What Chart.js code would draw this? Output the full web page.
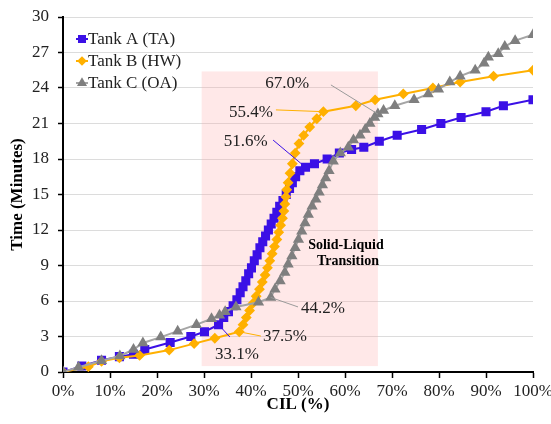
<!DOCTYPE html>
<html>
<head>
<meta charset="utf-8">
<script src="https://cdn.jsdelivr.net/npm/chart.js@4"></script>
<style>
  html, body { margin: 0; padding: 0; background: #fff; }
  #wrap { width: 551px; height: 424px; }
</style>
</head>
<body>
<div id="wrap"><canvas id="c" width="551" height="424"></canvas></div>
<script>
// CIL (%) vs. time (minutes) for the three tanks
const tankA_cil = [0, 4, 8.2, 12, 15, 17.4, 22.8, 27.2, 30.1, 33.1, 34.2, 35.2, 36.2, 37, 37.7, 38.3, 38.9, 39.5, 40.1, 40.7, 41.3, 41.9, 42.5, 43.1, 43.7, 44.3, 44.9, 45.5, 46.1, 46.8, 47.5, 48.2, 48.8, 49.5, 50.4, 51.6, 53.5, 56.2, 58.8, 61.4, 64, 67.3, 71.1, 76.3, 80.4, 84.7, 90, 93.7, 100];
const tankA_time = [0, 0.5, 1.0, 1.3, 1.5, 1.9, 2.5, 3.0, 3.4, 4.0, 4.6, 5.1, 5.6, 6.1, 6.7, 7.2, 7.7, 8.3, 8.8, 9.4, 9.9, 10.5, 11.0, 11.5, 12.0, 12.5, 13.0, 13.5, 14.0, 14.5, 15.0, 15.5, 16.0, 16.5, 17.0, 17.3, 17.6, 18.0, 18.5, 18.8, 19.0, 19.5, 20.0, 20.5, 21.0, 21.5, 22.0, 22.5, 23.0];

const tankB_cil = [0, 5.4, 8.2, 12, 16.3, 22.6, 27.9, 32.3, 37.5, 38.3, 39.0, 39.7, 40.4, 41.1, 41.8, 42.4, 43.0, 43.5, 44.0, 44.5, 45.0, 45.5, 45.9, 46.3, 46.7, 47.0, 47.2, 47.4, 47.6, 47.9, 48.3, 48.8, 49.4, 50.2, 51.2, 52.5, 54.0, 55.4, 62.3, 66.4, 72.4, 78.7, 84.5, 91.6, 100];
const tankB_time = [0, 0.45, 0.9, 1.2, 1.4, 1.85, 2.4, 2.85, 3.4, 4.0, 4.6, 5.2, 5.8, 6.4, 7.0, 7.6, 8.2, 8.8, 9.4, 10.0, 10.6, 11.2, 11.8, 12.4, 13.0, 13.6, 14.2, 14.8, 15.4, 16.0, 16.8, 17.6, 18.5, 19.3, 20.0, 20.7, 21.4, 22.0, 22.5, 23.0, 23.5, 24.0, 24.5, 25.0, 25.5];

const tankC_cil = [0, 3.3, 8.2, 12.1, 15, 17, 20.8, 24.4, 28.4, 31.6, 33.3, 34.5, 36.8, 41.6, 44.2, 45.1, 46.2, 47.2, 47.9, 48.7, 49.4, 50.1, 50.8, 51.5, 52.2, 53.0, 53.8, 54.5, 55.2, 55.9, 56.6, 57.5, 59.0, 60.7, 61.8, 63.2, 64.3, 65.3, 66.3, 67.0, 68.2, 70.6, 74.7, 77.7, 79.9, 82.3, 84.5, 87.7, 89.6, 90.5, 92.6, 94, 96.2, 100];
const tankC_time = [0, 0.4, 0.95, 1.35, 1.9, 2.45, 2.95, 3.45, 4.0, 4.5, 4.8, 5.1, 5.5, 5.9, 6.3, 7.0, 7.7, 8.4, 9.1, 9.8, 10.5, 11.2, 11.9, 12.6, 13.3, 14.0, 14.6, 15.2, 15.8, 16.4, 17.0, 17.8, 18.5, 19.0, 19.6, 20.0, 20.5, 21.0, 21.5, 21.8, 22.1, 22.5, 23.0, 23.5, 23.9, 24.5, 25.0, 25.5, 26.1, 26.6, 26.9, 27.5, 28.0, 28.5];

const seriesNames = ['Tank A (TA)', 'Tank B (HW)', 'Tank C (OA)'];

// Axis ticks
const xTicks = [0, 10, 20, 30, 40, 50, 60, 70, 80, 90, 100];
const yTicks = [0, 3, 6, 9, 12, 15, 18, 21, 24, 27, 30];

// Shaded solid-liquid transition band (CIL % range, time range)
const bandCil = [29.5, 67.0];
const bandTime = [0.5, 25.4];

// Labelled CIL values: which series carries each one
const calloutValues = [33.1, 37.5, 44.2, 51.6, 55.4, 67.0];
const calloutSeries = [0, 1, 2, 0, 1, 2];

const SERIF = '"Liberation Serif", "Times New Roman", serif';
const COLORS = {
  a: '#3B10E6',
  b: '#FFB000',
  cLine: '#A5A5A5',
  cMark: '#7F7F7F'
};

const toPoints = (xs, ys) => xs.map((x, i) => ({ x: x, y: ys[i] }));

// Callout placement (label centre and leader end, in axis units)
const calloutLayout = [
  { label: [37.0, 1.44], leader: [35.5, 2.96], color: COLORS.a },
  { label: [47.2, 2.96], leader: [42.1, 3.04], color: COLORS.b },
  { label: [55.3, 5.40], leader: [50.0, 5.50], color: '#9A9A9A' },
  { label: [38.9, 19.45], leader: [44.7, 19.6], color: COLORS.a },
  { label: [40.0, 21.9], leader: [45.3, 22.15], color: COLORS.b },
  { label: [47.7, 24.35], leader: [57.0, 24.26], color: '#9A9A9A' }
];

const bandPlugin = {
  id: 'band',
  beforeDatasetsDraw(chart) {
    const { ctx, scales: { x, y } } = chart;
    const x0 = x.getPixelForValue(bandCil[0]);
    const x1 = x.getPixelForValue(bandCil[1]);
    const y0 = y.getPixelForValue(bandTime[1]);
    const y1 = y.getPixelForValue(bandTime[0]);
    ctx.save();
    ctx.fillStyle = 'rgba(255, 170, 170, 0.27)';
    ctx.fillRect(x0, y0, x1 - x0, y1 - y0);
    ctx.restore();
  }
};

const calloutPlugin = {
  id: 'callouts',
  afterDatasetsDraw(chart) {
    const { ctx, scales: { x, y } } = chart;
    ctx.save();
    calloutValues.forEach((v, i) => {
      const ds = chart.data.datasets[calloutSeries[i]];
      const pt = ds.data.find(p => p.x === v);
      const lay = calloutLayout[i];
      const px = x.getPixelForValue(pt.x);
      const py = y.getPixelForValue(pt.y);
      ctx.strokeStyle = lay.color;
      ctx.lineWidth = 1;
      ctx.beginPath();
      ctx.moveTo(px, py);
      ctx.lineTo(x.getPixelForValue(lay.leader[0]), y.getPixelForValue(lay.leader[1]));
      ctx.stroke();
      ctx.fillStyle = '#222';
      ctx.font = '17px ' + SERIF;
      ctx.textAlign = 'center';
      ctx.textBaseline = 'middle';
      ctx.fillText(v.toFixed(1) + '%', x.getPixelForValue(lay.label[0]), y.getPixelForValue(lay.label[1]));
    });
    // Band caption
    ctx.fillStyle = '#000';
    ctx.font = 'bold 14px ' + SERIF;
    ctx.textAlign = 'center';
    ctx.textBaseline = 'middle';
    const cx = x.getPixelForValue(60.2);
    const cy = y.getPixelForValue(10.0);
    ctx.fillText('Solid-Liquid', cx, cy - 8);
    ctx.fillText('Transition', cx + 2, cy + 8);
    ctx.restore();
  }
};

const legendPlugin = {
  id: 'sideLegend',
  afterDraw(chart) {
    const { ctx } = chart;
    ctx.save();
    const rowY = [39, 61, 83];
    chart.data.datasets.forEach((ds, i) => {
      const yy = rowY[i];
      ctx.strokeStyle = ds.borderColor;
      ctx.lineWidth = 2;
      ctx.beginPath();
      ctx.moveTo(76, yy);
      ctx.lineTo(88, yy);
      ctx.stroke();
      ctx.fillStyle = ds.pointBackgroundColor;
      ctx.strokeStyle = ds.pointBorderColor;
      Chart.helpers.drawPoint(ctx, {
        pointStyle: ds.pointStyle,
        radius: ds.pointRadius * 0.85,
        rotation: 0,
        borderWidth: 1
      }, 82, yy);
      ctx.fillStyle = '#222';
      ctx.font = '17px ' + SERIF;
      ctx.textAlign = 'left';
      ctx.textBaseline = 'middle';
      ctx.fillText(seriesNames[i], 88, yy + 1);
    });
    ctx.restore();
  }
};

new Chart(document.getElementById('c'), {
  type: 'line',
  data: {
    datasets: [
      {
        label: seriesNames[0],
        data: toPoints(tankA_cil, tankA_time),
        borderColor: COLORS.a,
        backgroundColor: COLORS.a,
        pointBackgroundColor: COLORS.a,
        pointBorderColor: COLORS.a,
        pointStyle: 'rect',
        pointRadius: 5,
        borderWidth: 2,
        order: 3
      },
      {
        label: seriesNames[1],
        data: toPoints(tankB_cil, tankB_time),
        borderColor: COLORS.b,
        backgroundColor: COLORS.b,
        pointBackgroundColor: COLORS.b,
        pointBorderColor: COLORS.b,
        pointStyle: 'rectRot',
        pointRadius: 4,
        borderWidth: 2,
        order: 2
      },
      {
        label: seriesNames[2],
        data: toPoints(tankC_cil, tankC_time),
        borderColor: COLORS.cLine,
        backgroundColor: COLORS.cMark,
        pointBackgroundColor: COLORS.cMark,
        pointBorderColor: COLORS.cMark,
        pointStyle: 'triangle',
        pointRadius: 4.5,
        borderWidth: 2,
        order: 1
      }
    ]
  },
  options: {
    responsive: false,
    animation: false,
    layout: { padding: { left: 0, right: 18, top: 17, bottom: 0 } },
    plugins: {
      legend: { display: false },
      tooltip: { enabled: false }
    },
    scales: {
      x: {
        type: 'linear',
        min: 0,
        max: 100,
        afterBuildTicks(s) { s.ticks = xTicks.map(v => ({ value: v })); },
        afterFit(s) { s.height = 52; s.paddingLeft = 0; s.paddingRight = 0; },
        grid: { drawOnChartArea: false, drawTicks: true, tickLength: 6, tickColor: '#000', tickWidth: 1.5 },
        border: { color: '#000', width: 2 },
        ticks: {
          color: '#222',
          padding: 3,
          maxRotation: 0,
          font: { family: SERIF, size: 17 },
          callback: v => v + '%'
        },
        title: {
          display: true,
          text: 'CIL (%)',
          color: '#000',
          font: { family: SERIF, size: 17, weight: 'bold' },
          padding: { top: 0, bottom: 9 }
        }
      },
      y: {
        type: 'linear',
        min: 0,
        max: 30,
        afterBuildTicks(s) { s.ticks = yTicks.map(v => ({ value: v })); },
        afterFit(s) { s.width = 63; s.paddingTop = 0; s.paddingBottom = 0; },
        grid: { color: '#DCDCDC', lineWidth: 1, drawTicks: true, tickLength: 5, tickColor: '#000', tickWidth: 1.5 },
        border: { color: '#000', width: 2 },
        ticks: {
          color: '#222',
          padding: 9,
          font: { family: SERIF, size: 17 }
        },
        title: {
          display: true,
          text: 'Time (Minutes)',
          color: '#000',
          font: { family: SERIF, size: 17, weight: 'bold' },
          padding: { top: 7, bottom: 0 }
        }
      }
    }
  },
  plugins: [bandPlugin, calloutPlugin, legendPlugin]
});
</script>
</body>
</html>
